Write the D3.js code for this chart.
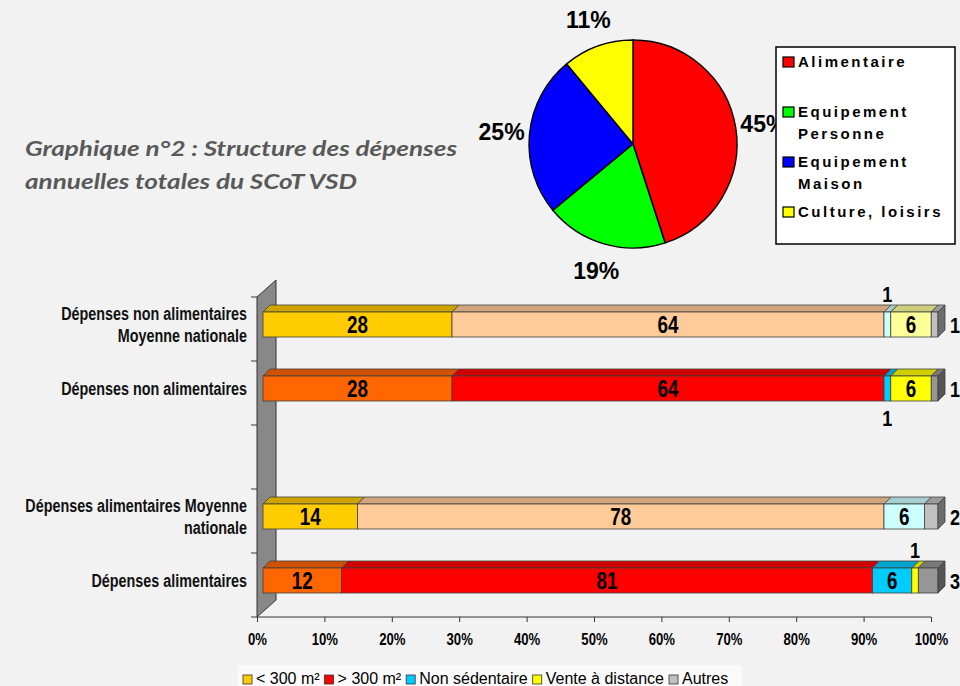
<!DOCTYPE html>
<html>
<head>
<meta charset="utf-8">
<script src="https://cdn.jsdelivr.net/npm/d3@7"></script>
<style>
	body { margin: 0; background: #f2f2f2; }
	svg { display: block; font-family: "Liberation Sans", Arial, sans-serif; }
</style>
</head>
<body>
<svg id="chart" width="960" height="686"></svg>
<script>
// pie: structure des dépenses
var pieNames = ["Alimentaire", "Equipement Personne", "Equipement Maison", "Culture, loisirs"];
var pieValues = [45, 19, 25, 11];
var pieColors = ["#ff0000", "#00ff00", "#0000ff", "#ffff00"];

// stacked bars (one empty row between the two groups)
var categories = [
	["Dépenses non alimentaires", "Moyenne nationale"],
	["Dépenses non alimentaires"],
	[],
	["Dépenses alimentaires Moyenne", "nationale"],
	["Dépenses alimentaires"]
];
var isNational = [true, false, false, true, false];
var seriesNames = ["< 300 m²", "> 300 m²", "Non sédentaire", "Vente à distance", "Autres"];
var under300 = [28, 28, null, 14, 12];
var over300 = [64, 64, null, 78, 81];
var nonSedentaire = [1, 1, null, 6, 6];
var venteDistance = [6, 6, null, 0, 1];
var autres = [1, 1, null, 2, 3];
var axisTicks = [0, 0.1, 0.2, 0.3, 0.4, 0.5, 0.6, 0.7, 0.8, 0.9, 1];

var scotColors = ["#ff6600", "#ff0000", "#00ccff", "#ffff00", "#969696"];
var nationalColors = ["#ffcc00", "#ffcc99", "#ccffff", "#ffff99", "#c0c0c0"];
var legendColors = ["#ffcc00", "#ff0000", "#00ccff", "#ffff00", "#c0c0c0"];

var svg = d3.select("#chart");

// is there a narrow font? if not, squeeze the normal one
function textWidth(family) {
	var t = svg.append("text").style("font-family", family).style("font-size", "100px").text("0123456789");
	var w = t.node().getComputedTextLength();
	t.remove();
	return w;
}
var hasNarrow = textWidth("'Liberation Sans Narrow', 'Liberation Sans'") / textWidth("'Liberation Sans'") < 0.9;
var narrowFamily = hasNarrow ? "'Liberation Sans Narrow', 'Liberation Sans', sans-serif" : "'Liberation Sans', sans-serif";
var squeeze = hasNarrow ? 1 : 0.82;

function narrowText(parent, x, y, txt, size, anchor) {
	return parent.append("text")
		.attr("transform", "translate(" + x + "," + y + ") scale(" + squeeze + ",1)")
		.attr("text-anchor", anchor || "middle")
		.style("font-family", narrowFamily)
		.style("font-weight", "bold")
		.style("font-size", size + "px")
		.text(txt);
}

// ---------- title ----------
var title = svg.append("g")
	.attr("fill", "#595959")
	.style("font-family", "Lato, 'Open Sans', sans-serif")
	.style("font-style", "italic")
	.style("font-weight", "bold")
	.style("font-size", "21px");
title.append("text").attr("x", 25).attr("y", 156)
	.attr("textLength", 432).attr("lengthAdjust", "spacingAndGlyphs")
	.text("Graphique n°2 : Structure des dépenses");
title.append("text").attr("x", 25).attr("y", 189)
	.attr("textLength", 332).attr("lengthAdjust", "spacingAndGlyphs")
	.text("annuelles totales du SCoT VSD");

// ---------- pie ----------
var pieCx = 633, pieCy = 144, pieR = 104;
var pie = d3.pie().sort(null).value(function(d) { return d; });
var arc = d3.arc().innerRadius(0).outerRadius(pieR);
var labelArc = d3.arc().innerRadius(132).outerRadius(132);
var pieG = svg.append("g").attr("transform", "translate(" + pieCx + "," + pieCy + ")");
var slices = pie(pieValues);

pieG.selectAll("path")
	.data(slices)
	.enter().append("path")
	.attr("d", arc)
	.attr("fill", function(d, i) { return pieColors[i]; })
	.attr("stroke", "#000")
	.attr("stroke-width", 1.4);

pieG.selectAll("text")
	.data(slices)
	.enter().append("text")
	.attr("transform", function(d) { return "translate(" + labelArc.centroid(d) + ")"; })
	.attr("text-anchor", "middle")
	.attr("dy", "0.36em")
	.style("font-weight", "bold")
	.style("font-size", "23px")
	.text(function(d) { return d.data + "%"; });

// pie legend box (drawn over the 45% label like the original)
var pieLegend = svg.append("g");
pieLegend.append("rect")
	.attr("x", 776).attr("y", 47).attr("width", 179).attr("height", 197)
	.attr("fill", "#fff").attr("stroke", "#000").attr("stroke-width", 1.5);

var pieEntries = pieLegend.selectAll("g.entry")
	.data(pieNames)
	.enter().append("g")
	.attr("class", "entry")
	.attr("transform", function(d, i) { return "translate(0," + (67 + 50 * i) + ")"; });
pieEntries.append("rect")
	.attr("x", 783).attr("y", -10).attr("width", 11).attr("height", 10)
	.attr("fill", function(d, i) { return pieColors[i]; })
	.attr("stroke", "#000").attr("stroke-width", 1.2);
pieEntries.each(function(name) {
	// long names go on two lines
	var lines = name.length > 16 ? [name.slice(0, name.indexOf(" ")), name.slice(name.indexOf(" ") + 1)] : [name];
	var g = d3.select(this);
	lines.forEach(function(line, j) {
		g.append("text")
			.attr("x", 798).attr("y", j * 22)
			.style("font-weight", "bold")
			.style("font-size", "15px")
			.style("letter-spacing", "2.5px")
			.text(line);
	});
});

// ---------- bars ----------
var rows = categories.map(function(c, i) {
	return {
		index: i,
		national: isNational[i],
		values: [under300[i], over300[i], nonSedentaire[i], venteDistance[i], autres[i]]
	};
}).filter(function(r) { return r.values[0] !== null; });

var x = d3.scaleLinear().domain([0, 1]).range([263, 938]);
var xAxisScale = d3.scaleLinear().domain([0, 1]).range([257, 931]);
var y = d3.scaleBand().domain(d3.range(categories.length)).range([297, 617]);
var barTop = 15, barH = 25, depth = 7;

var stack = d3.stack()
	.keys(d3.range(seriesNames.length))
	.value(function(d, k) { return d.values[k]; })
	.offset(d3.stackOffsetExpand);
var stacked = stack(rows);

// side wall
var wall = svg.append("g");
wall.append("path")
	.attr("d", "M257,297 L276,280 L276,600 L257,617 Z")
	.attr("fill", "#888").attr("stroke", "#333").attr("stroke-width", 1);

// category ticks on the left
wall.selectAll("line")
	.data(d3.range(categories.length + 1))
	.enter().append("line")
	.attr("x1", 251).attr("x2", 257)
	.attr("y1", function(d) { return d < categories.length ? y(d) : y.range()[1]; })
	.attr("y2", function(d) { return d < categories.length ? y(d) : y.range()[1]; })
	.attr("stroke", "#333");

// value axis
var xAxis = d3.axisBottom(xAxisScale)
	.tickValues(axisTicks)
	.tickFormat(d3.format(".0%"))
	.tickSize(5)
	.tickPadding(12);
var axisG = svg.append("g")
	.attr("transform", "translate(0,617)")
	.call(xAxis);
axisG.select(".domain").attr("stroke", "#333").attr("d", "M257,0H931");
axisG.selectAll(".tick line").attr("stroke", "#333");
axisG.selectAll("text")
	.attr("fill", "#000")
	.attr("transform", "scale(" + squeeze + ",1)")
	.style("font-family", narrowFamily)
	.style("font-weight", "bold")
	.style("font-size", "16px");

// category labels
var catG = svg.append("g").attr("fill", "#111");
categories.forEach(function(lines, i) {
	var mid = y(i) + barTop + barH / 2;
	lines.forEach(function(line, j) {
		narrowText(catG, 247, mid + 6 + (j - (lines.length - 1) / 2) * 22, line, 17.5, "end");
	});
});

function segColor(row, k) {
	return row.national ? nationalColors[k] : scotColors[k];
}

var barsG = svg.append("g");
stacked.forEach(function(serie, k) {
	serie.forEach(function(seg, r) {
		var row = rows[r];
		var value = row.values[k];
		if (!value) return;
		var x0 = x(seg[0]), x1 = x(seg[1]);
		var yt = y(row.index) + barTop, yb = yt + barH;
		var c = segColor(row, k);

		// top face
		barsG.append("path")
			.attr("d", "M" + x0 + "," + yt + "L" + (x0 + depth) + "," + (yt - depth) +
				"L" + (x1 + depth) + "," + (yt - depth) + "L" + x1 + "," + yt + "Z")
			.attr("fill", d3.color(c).darker(0.6))
			.attr("stroke", "#404040").attr("stroke-width", 0.8);
		// front face
		barsG.append("rect")
			.attr("x", x0).attr("y", yt)
			.attr("width", x1 - x0).attr("height", barH)
			.attr("fill", c)
			.attr("stroke", "#404040").attr("stroke-width", 0.8);
		// right side on the end of the bar
		if (k === seriesNames.length - 1) {
			barsG.append("path")
				.attr("d", "M" + x1 + "," + yt + "L" + (x1 + depth) + "," + (yt - depth) +
					"L" + (x1 + depth) + "," + (yb - depth) + "L" + x1 + "," + yb + "Z")
				.attr("fill", d3.color(c).darker(1.6))
				.attr("stroke", "#404040").attr("stroke-width", 0.8);
		}

		// value label: small shares go outside the bar
		var isLast = k === seriesNames.length - 1;
		var lx = (x0 + x1) / 2, ly = (yt + yb) / 2 + 8.5;
		if (value < 5) {
			if (isLast) {
				lx = x(1) + 12;
			} else if (row.index === 1) {
				ly = yb + 25;
			} else {
				ly = yt - 10;
			}
		}
		narrowText(barsG, lx, ly, value, value < 5 ? 22 : 23, value < 5 && isLast ? "start" : "middle");
	});
});

// ---------- bottom legend ----------
var legend = svg.append("g");
legend.append("rect")
	.attr("x", 238).attr("y", 665).attr("width", 504).attr("height", 21)
	.attr("fill", "#fafafa");
var legX = 243;
seriesNames.forEach(function(name, i) {
	legend.append("rect")
		.attr("x", legX).attr("y", 675).attr("width", 9).attr("height", 9)
		.attr("fill", legendColors[i])
		.attr("stroke", "#333").attr("stroke-width", 0.8);
	var t = legend.append("text")
		.attr("x", legX + 13).attr("y", 684)
		.style("font-size", "16px")
		.text(name);
	legX += 13 + t.node().getComputedTextLength() + 5;
});
</script>
</body>
</html>
